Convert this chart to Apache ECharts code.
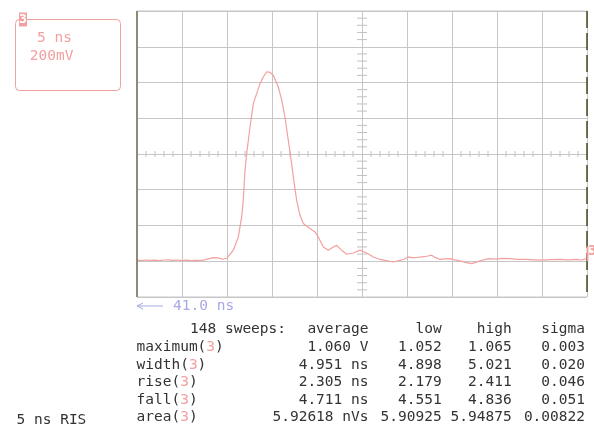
<!DOCTYPE html>
<html><head><meta charset="utf-8">
<script src="https://cdn.jsdelivr.net/npm/echarts@6/dist/echarts.min.js"></script>
<style>html,body{margin:0;padding:0;background:#fff}#c{width:594px;height:428px}</style>
</head><body><div id="c"></div>
<script>
// trace (time in ns, volts)
const timeNs = [0,0.5,1,1.5,2,2.5,3,3.5,4,4.5,5,5.5,6,6.5,7,7.5,8,8.5,9,9.5,10,10.7,11.26,11.63,11.81,12.0,12.19,12.56,12.92,13.3,13.67,14.03,14.41,14.78,15.14,15.7,16.08,16.44,16.81,17.08,17.37,17.74,18.11,18.48,19.22,19.78,20.14,20.7,21.26,21.81,22.19,22.74,23.3,24.03,24.78,25.52,26.26,27.0,27.7,28.48,29.0,29.59,30.14,30.6,31.08,31.6,32.19,32.74,33.2,33.67,34.2,34.78,35.3,35.89,36.5,37.19,37.6,38.11,38.7,39.22,39.8,40.6,41.44,42.3,43.3,44.2,45.14,46.0,47.0,47.9,48.86,49.4,49.9];
const volts = [0.006,0.004,0.007,0.005,0.006,0.003,0.007,0.008,0.005,0.007,0.004,0.006,0.003,0.005,0.004,0.008,0.015,0.020,0.019,0.011,0.017,0.062,0.136,0.248,0.341,0.509,0.604,0.751,0.882,0.938,0.994,1.031,1.060,1.057,1.040,0.975,0.901,0.807,0.677,0.583,0.471,0.341,0.257,0.211,0.183,0.164,0.136,0.080,0.062,0.080,0.089,0.062,0.039,0.046,0.062,0.046,0.024,0.010,0.004,-0.004,0.002,0.010,0.024,0.020,0.021,0.024,0.028,0.034,0.020,0.010,0.013,0.015,0.008,0.002,-0.006,-0.013,-0.006,0.002,0.010,0.015,0.012,0.016,0.015,0.011,0.010,0.008,0.006,0.009,0.010,0.008,0.010,0.007,0.015];

// measurement table
const headerCols = ['average','low','high','sigma'];
const sweepsLabel = '148 sweeps:';
const measNames = ['maximum','width','rise','fall','area'];
const channel = '3';
const averages = ['1.060 V','4.951 ns','2.305 ns','4.711 ns','5.92618 nVs'];
const lows = ['1.052','4.898','2.179','4.551','5.90925'];
const highs = ['1.065','5.021','2.411','4.836','5.94875'];
const sigmas = ['0.003','0.020','0.046','0.051','0.00822'];
const timebase = '5 ns';
const voltsDiv = '200mV';
const delayText = '41.0 ns';
const modeText = '5 ns RIS';

const PINK = '#f2a0a0';
const TXT = '#333333';
const FONT = '14.5px "DejaVu Sans Mono", monospace';

const chart = echarts.init(document.getElementById('c'), null, {renderer:'canvas'});
const gridLine = {show:true, lineStyle:{color:'#c6c6c6', width:1}};
chart.setOption({
  animation:false,
  backgroundColor:'#ffffff',
  grid:{left:137, top:11, width:450, height:286},
  xAxis:{type:'value', min:0, max:50, interval:5, axisLabel:{show:false}, axisTick:{show:false},
     axisLine:{show:false}, splitLine:gridLine},
  yAxis:{type:'value', min:-0.2, max:1.4, interval:0.2, axisLabel:{show:false}, axisTick:{show:false},
     axisLine:{show:false}, splitLine:gridLine},
  series:[{
    type:'line', showSymbol:false, symbol:'none',
    data: timeNs.map((t,i)=>[t, volts[i]]),
    lineStyle:{color:PINK, width:1.2}, z:5
  }]
});

const g = [];
const P = (x,y)=>chart.convertToPixel({xAxisIndex:0, yAxisIndex:0},[x,y]);
const [x0, yb] = P(0,-0.2);
const [x1, yt] = P(50,1.4);
// borders
g.push({type:'line', shape:{x1:x0,y1:yt,x2:x1,y2:yt}, style:{stroke:'#c6c6c6', lineWidth:1}, silent:true});
g.push({type:'line', shape:{x1:x0,y1:yb,x2:x1,y2:yb}, style:{stroke:'#c6c6c6', lineWidth:1}, silent:true});
g.push({type:'line', shape:{x1:x0,y1:yt,x2:x0,y2:yb}, style:{stroke:'#8c8c72', lineWidth:2}, silent:true, z:10});
g.push({type:'line', shape:{x1:x1,y1:yt,x2:x1,y2:yb}, style:{stroke:'#45451e', lineWidth:1.5, lineDash:[17,5]}, silent:true, z:10});

// center graticule minor ticks (through axis scales)
const cy = P(0,0.6)[1];
const cx = P(25,0)[0];
for (let t=1; t<50; t++) {
  if (t%5===0) continue;
  const px = P(t,0)[0];
  g.push({type:'line', shape:{x1:px,y1:cy-3,x2:px,y2:cy+3}, style:{stroke:'#c0c0c0', lineWidth:1}, silent:true});
}
for (let k=-4; k<35; k++) {
  if (k%5===0) continue;
  const py = P(0,k*0.04)[1];
  g.push({type:'line', shape:{x1:cx-5,y1:py,x2:cx+5,y2:py}, style:{stroke:'#c0c0c0', lineWidth:1}, silent:true});
}

// channel box top left
g.push({type:'rect', shape:{x:15.5,y:19.5,width:105,height:71,r:4}, style:{fill:'none', stroke:PINK, lineWidth:1}});
g.push({type:'rect', shape:{x:19,y:12.5,width:8,height:14}, style:{fill:PINK}});
g.push({type:'text', x:23, y:20, style:{text:channel, font:'bold 13px "DejaVu Sans Mono", monospace', fill:'#ffffff', align:'center', verticalAlign:'middle'}});
g.push({type:'text', x:72, y:38, style:{text:timebase, font:FONT, fill:PINK, align:'right', verticalAlign:'middle'}});
g.push({type:'text', x:73.5, y:56, style:{text:voltsDiv, font:FONT, fill:PINK, align:'right', verticalAlign:'middle'}});

// right channel marker
const zy = P(0,0)[1];
g.push({type:'line', shape:{x1:587.5,y1:zy-15,x2:587.5,y2:zy}, style:{stroke:PINK, lineWidth:2}, z:11});
g.push({type:'text', x:588, y:zy-10, style:{text:channel, font:'bold 14px "DejaVu Sans Mono", monospace', fill:PINK, align:'left', verticalAlign:'middle'}});

// delay arrow
g.push({type:'polyline', shape:{points:[[163,306],[137,306]]}, style:{stroke:'#a8a8e6', lineWidth:1, fill:'none'}});
g.push({type:'polyline', shape:{points:[[143,303],[137,306],[143,309]]}, style:{stroke:'#a8a8e6', lineWidth:1, fill:'none'}});
g.push({type:'text', x:173, y:306, style:{text:delayText, font:FONT, fill:'#a8a8e6', align:'left', verticalAlign:'middle'}});

// table
const colRight = [368.5, 441.7, 511.7, 585];
const rowY = [329, 347, 365, 382.5, 400, 417.5];
g.push({type:'text', x:190, y:rowY[0], style:{text:sweepsLabel, font:FONT, fill:TXT, align:'left', verticalAlign:'middle'}});
headerCols.forEach((h,i)=>g.push({type:'text', x:colRight[i], y:rowY[0], style:{text:h, font:FONT, fill:TXT, align:'right', verticalAlign:'middle'}}));
measNames.forEach((n,r)=>{
  const y = rowY[r+1];
  g.push({type:'text', x:136.5, y:y, style:{text:'{a|'+n+'(}{p|'+channel+'}{a|)}', align:'left', verticalAlign:'middle',
    rich:{a:{font:FONT, fill:TXT, color:TXT}, p:{font:FONT, fill:PINK, color:PINK}}}});
  [averages[r], lows[r], highs[r], sigmas[r]].forEach((v,i)=>g.push({type:'text', x:colRight[i], y:y, style:{text:v, font:FONT, fill:TXT, align:'right', verticalAlign:'middle'}}));
});
g.push({type:'text', x:16.5, y:420, style:{text:modeText, font:FONT, fill:TXT, align:'left', verticalAlign:'middle'}});

chart.setOption({graphic:{elements:g}});
</script></body></html>
